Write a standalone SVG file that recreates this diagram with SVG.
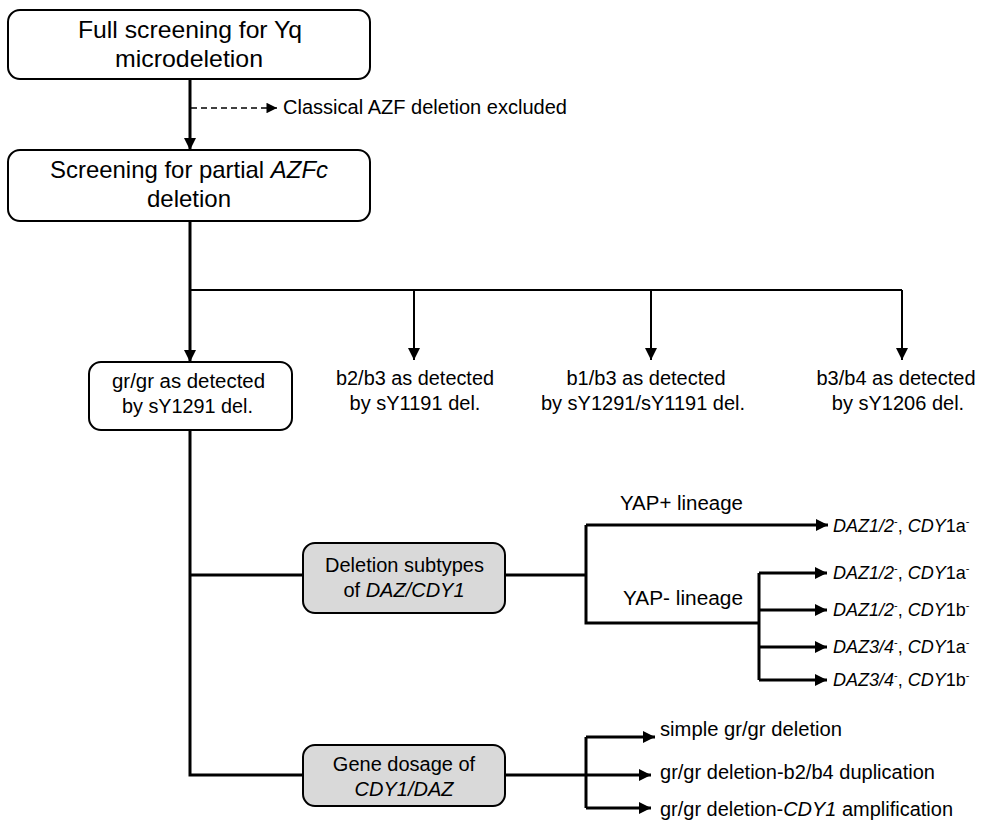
<svg xmlns="http://www.w3.org/2000/svg" width="983" height="828" viewBox="0 0 983 828">
<style>
text{font-family:"Liberation Sans",Arial,sans-serif;fill:#000}
.big{font-size:24px}
.mid{font-size:20px}
.lf{font-size:18px}
.box{fill:#fff;stroke:#000;stroke-width:2}
.gbox{fill:#d9d9d9;stroke:#000;stroke-width:2}
.ln{fill:none;stroke:#000;stroke-width:3}
.thin{fill:none;stroke:#000;stroke-width:2}
.dash{fill:none;stroke:#000;stroke-width:1.5;stroke-dasharray:6,4}
.it{font-style:italic}
.sup{font-size:11px}
</style>
<defs>
<marker id="ah" viewBox="0 0 10 10" refX="10" refY="5" markerWidth="4" markerHeight="4" orient="auto" markerUnits="strokeWidth"><path d="M0,0L10,5L0,10z" fill="#000"/></marker>
<marker id="ah2" viewBox="0 0 10 10" refX="10" refY="5" markerWidth="6" markerHeight="6" orient="auto" markerUnits="strokeWidth"><path d="M0,0L10,5L0,10z" fill="#000"/></marker>
<marker id="ah3" viewBox="0 0 10 10" refX="10" refY="5" markerWidth="8" markerHeight="7" orient="auto" markerUnits="strokeWidth"><path d="M0,0L10,5L0,10z" fill="#000"/></marker>
</defs>
<g id="connectors">
<path class="ln" d="M190,79V150" marker-end="url(#ah)"/>
<path class="dash" d="M191,108H277" marker-end="url(#ah3)"/>
<path class="ln" d="M190,221V362" marker-end="url(#ah)"/>
<path class="thin" d="M190,290H902"/>
<path class="thin" d="M414,290V360" marker-end="url(#ah2)"/>
<path class="thin" d="M651,290V360" marker-end="url(#ah2)"/>
<path class="thin" d="M902,290V360" marker-end="url(#ah2)"/>
<path class="ln" d="M190,430V775H303"/>
<path class="ln" d="M190,575H303"/>
<path class="ln" d="M505,575H586"/>
<path class="ln" d="M586,525V623H759"/>
<path class="ln" d="M586,525H828" marker-end="url(#ah)"/>
<path class="ln" d="M759,573V680"/>
<path class="ln" d="M759,573H827" marker-end="url(#ah)"/>
<path class="ln" d="M759,610H827" marker-end="url(#ah)"/>
<path class="ln" d="M759,647H827" marker-end="url(#ah)"/>
<path class="ln" d="M759,680H827" marker-end="url(#ah)"/>
<path class="ln" d="M505,775H651" marker-end="url(#ah)"/>
<path class="ln" d="M586,737V808"/>
<path class="ln" d="M586,737H655" marker-end="url(#ah)"/>
<path class="ln" d="M586,808H651" marker-end="url(#ah)"/>
</g>
<g id="n1">
<rect class="box" x="8" y="10" width="362" height="69" rx="12"/>
<text class="big" x="78" y="38" textLength="224" lengthAdjust="spacingAndGlyphs">Full screening for Yq</text>
<text class="big" x="115" y="67" textLength="148" lengthAdjust="spacingAndGlyphs">microdeletion</text>
</g>
<g id="lbl-excl">
<text class="mid" x="283" y="114" textLength="284" lengthAdjust="spacingAndGlyphs">Classical AZF deletion excluded</text>
</g>
<g id="n2">
<rect class="box" x="8" y="150" width="362" height="71" rx="12"/>
<text class="big" x="50" y="178" textLength="278" lengthAdjust="spacingAndGlyphs">Screening for partial <tspan class="it">AZFc</tspan></text>
<text class="big" x="189" y="207" text-anchor="middle">deletion</text>
</g>
<g id="n3">
<rect class="box" x="89" y="362" width="203" height="68" rx="12"/>
<text class="mid" x="112" y="388" textLength="153" lengthAdjust="spacingAndGlyphs">gr/gr as detected</text>
<text class="mid" x="122" y="413" textLength="131" lengthAdjust="spacingAndGlyphs">by sY1291 del.</text>
</g>
<g id="n4">
<text class="mid" x="336" y="385" textLength="158" lengthAdjust="spacingAndGlyphs">b2/b3 as detected</text>
<text class="mid" x="415" y="410" text-anchor="middle">by sY1191 del.</text>
</g>
<g id="n5">
<text class="mid" x="646" y="385" text-anchor="middle">b1/b3 as detected</text>
<text class="mid" x="643" y="410" text-anchor="middle">by sY1291/sY1191 del.</text>
</g>
<g id="n6">
<text class="mid" x="896" y="385" text-anchor="middle">b3/b4 as detected</text>
<text class="mid" x="898" y="410" text-anchor="middle">by sY1206 del.</text>
</g>
<g id="n7">
<rect class="gbox" x="303" y="543" width="202" height="70" rx="12"/>
<text class="mid" x="325" y="572" textLength="159" lengthAdjust="spacingAndGlyphs">Deletion subtypes</text>
<text class="mid" x="404" y="597" text-anchor="middle">of <tspan class="it">DAZ/CDY1</tspan></text>
</g>
<g id="lbl-yap">
<text class="mid" x="620" y="510" textLength="123" lengthAdjust="spacingAndGlyphs">YAP+ lineage</text>
<text class="mid" x="623" y="605" textLength="120" lengthAdjust="spacingAndGlyphs">YAP- lineage</text>
</g>
<g id="leaves-daz">
<text class="lf" x="833" y="532"><tspan class="it">DAZ1/2</tspan><tspan class="sup" dy="-7">-</tspan><tspan dy="7">, </tspan><tspan class="it">CDY</tspan>1a<tspan class="sup" dy="-7">-</tspan></text>
<text class="lf" x="833" y="579"><tspan class="it">DAZ1/2</tspan><tspan class="sup" dy="-7">-</tspan><tspan dy="7">, </tspan><tspan class="it">CDY</tspan>1a<tspan class="sup" dy="-7">-</tspan></text>
<text class="lf" x="833" y="616"><tspan class="it">DAZ1/2</tspan><tspan class="sup" dy="-7">-</tspan><tspan dy="7">, </tspan><tspan class="it">CDY</tspan>1b<tspan class="sup" dy="-7">-</tspan></text>
<text class="lf" x="833" y="653"><tspan class="it">DAZ3/4</tspan><tspan class="sup" dy="-7">-</tspan><tspan dy="7">, </tspan><tspan class="it">CDY</tspan>1a<tspan class="sup" dy="-7">-</tspan></text>
<text class="lf" x="833" y="686"><tspan class="it">DAZ3/4</tspan><tspan class="sup" dy="-7">-</tspan><tspan dy="7">, </tspan><tspan class="it">CDY</tspan>1b<tspan class="sup" dy="-7">-</tspan></text>
</g>
<g id="n8">
<rect class="gbox" x="303" y="745" width="202" height="61" rx="12"/>
<text class="mid" x="404" y="771" text-anchor="middle">Gene dosage of</text>
<text class="mid it" x="404" y="796" text-anchor="middle">CDY1/DAZ</text>
</g>
<g id="leaves-dose">
<text class="mid" x="660" y="736" textLength="182" lengthAdjust="spacingAndGlyphs">simple gr/gr deletion</text>
<text class="mid" x="660" y="779" textLength="275" lengthAdjust="spacingAndGlyphs">gr/gr deletion-b2/b4 duplication</text>
<text class="mid" x="660" y="816" textLength="293" lengthAdjust="spacingAndGlyphs">gr/gr deletion-<tspan class="it">CDY1</tspan> amplification</text>
</g>
</svg>
